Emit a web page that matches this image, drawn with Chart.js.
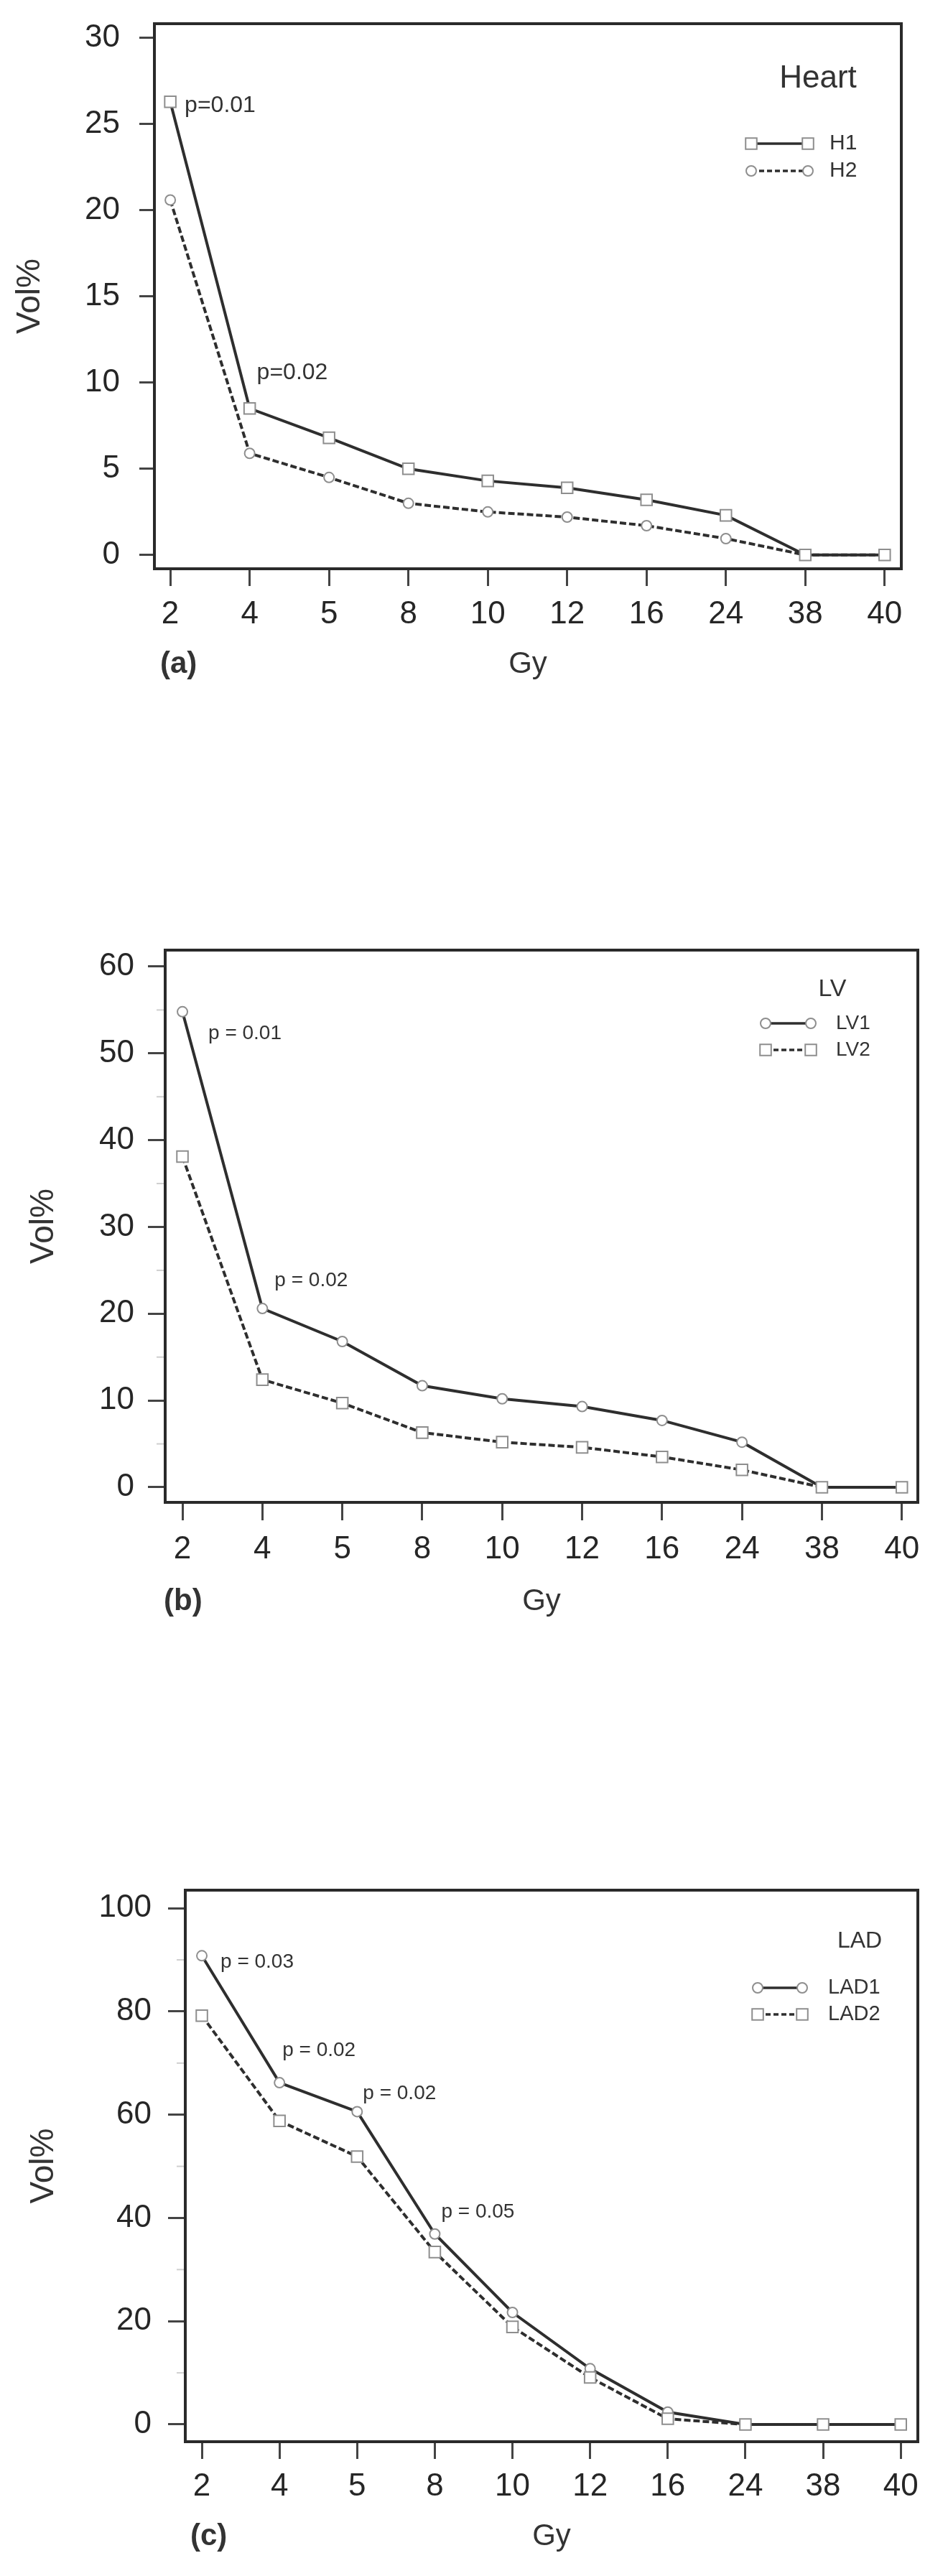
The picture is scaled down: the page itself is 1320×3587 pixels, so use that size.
<!DOCTYPE html>
<html>
<head>
<meta charset="utf-8">
<title>Dose-volume: Heart, LV, LAD</title>
<script src="https://cdn.jsdelivr.net/npm/chart.js@4.4.1/dist/chart.umd.min.js"></script>
<style>
  html, body { margin: 0; padding: 0; background: #fff; }
  body { width: 1320px; height: 3587px; position: relative; overflow: hidden; }
  .panel { position: absolute; left: 0; width: 1320px; }
  canvas { display: block; }
</style>
</head>
<body>
<div class="panel" style="top:0px"><canvas id="chartA"></canvas></div>
<div class="panel" style="top:1250px"><canvas id="chartB"></canvas></div>
<div class="panel" style="top:2560px"><canvas id="chartC"></canvas></div>

<script>
// x categories (dose, Gy)
const gyLabels = ['2', '4', '5', '8', '10', '12', '16', '24', '38', '40'];

// (a) Heart, Vol%
const heartH1 = [26.3, 8.5, 6.8, 5.0, 4.3, 3.9, 3.2, 2.3, 0, 0];
const heartH2 = [20.6, 5.9, 4.5, 3.0, 2.5, 2.2, 1.7, 0.95, 0, 0];
const heartTicks = [0, 5, 10, 15, 20, 25, 30];

// (b) LV, Vol%
const lvLV1 = [54.8, 20.6, 16.8, 11.7, 10.2, 9.3, 7.7, 5.2, 0, 0];
const lvLV2 = [38.1, 12.4, 9.7, 6.3, 5.2, 4.6, 3.5, 2.0, 0, 0];
const lvTicks = [0, 10, 20, 30, 40, 50, 60];
const lvMinorTicks = [5, 15, 25, 35, 45, 55];

// (c) LAD, Vol%
const ladLAD1 = [90.8, 66.2, 60.6, 36.9, 21.7, 10.8, 2.4, 0, 0, 0];
const ladLAD2 = [79.2, 58.8, 51.9, 33.4, 18.9, 9.1, 1.1, 0, 0, 0];
const ladTicks = [0, 20, 40, 60, 80, 100];
const ladMinorTicks = [10, 30, 50, 70, 90];

// p-value notes: index into gyLabels + text
const heartNotes = [[0, 'p=0.01'], [1, 'p=0.02']];
const lvNotes = [[0, 'p = 0.01'], [1, 'p = 0.02']];
const ladNotes = [[0, 'p = 0.03'], [1, 'p = 0.02'], [2, 'p = 0.02'], [3, 'p = 0.05']];

const FONT = '"Liberation Sans", Arial, Helvetica, sans-serif';
const INK = '#2e2e2e';
const MARK = '#8e8e8e';

function markerRadius(style) { return style === 'rect' ? 11 : 7; }

function drawMarker(ctx, style, x, y) {
  const r = markerRadius(style);
  ctx.save();
  ctx.fillStyle = '#fff';
  ctx.strokeStyle = MARK;
  ctx.lineWidth = 2;
  ctx.setLineDash([]);
  ctx.beginPath();
  if (style === 'rect') {
    const s = r * Math.SQRT1_2;
    ctx.rect(x - s, y - s, 2 * s, 2 * s);
  } else {
    ctx.arc(x, y, r, 0, Math.PI * 2);
  }
  ctx.fill();
  ctx.stroke();
  ctx.restore();
}

// keep the plot box exactly where the frame is: no label overflow padding
function noOverflow(scale) {
  scale.paddingTop = 0;
  scale.paddingBottom = 0;
  scale.paddingLeft = 0;
  scale.paddingRight = 0;
}

function makePanel(cfg) {
  const canvas = document.getElementById(cfg.id);
  canvas.width = 1320;
  canvas.height = cfg.height;
  canvas.style.width = '1320px';
  canvas.style.height = cfg.height + 'px';
  const top0 = cfg.canvasTop;
  const fr = cfg.frame;

  const datasets = cfg.series.map(s => ({
    label: s.label,
    data: s.values.map((v, i) => ({ x: i, y: v })),
    borderColor: INK,
    borderWidth: 4,
    borderDash: s.dashed ? [9, 4] : [],
    pointStyle: s.marker,
    pointRadius: markerRadius(s.marker),
    pointBackgroundColor: '#fff',
    pointBorderColor: MARK,
    pointBorderWidth: 2,
    order: s.onTop ? 0 : 1,
    tension: 0,
    fill: false
  }));

  const decor = {
    id: 'decor',
    afterDatasetsDraw(chart) {
      const ctx = chart.ctx;
      const xs = chart.scales.x, ys = chart.scales.y;
      const base = cfg.series[0].values;
      ctx.save();
      ctx.fillStyle = '#333';
      ctx.font = cfg.noteSize + 'px ' + FONT;
      ctx.textAlign = 'left';
      ctx.textBaseline = 'middle';
      cfg.notes.forEach(([i, txt], k) => {
        const off = cfg.noteOffsets[k];
        ctx.fillText(txt, xs.getPixelForValue(i) + off[0], ys.getPixelForValue(base[i]) + off[1]);
      });
      ctx.restore();
    },
    afterDraw(chart) {
      const ctx = chart.ctx;
      const a = chart.chartArea;
      const ys = chart.scales.y;
      ctx.save();
      // frame
      ctx.strokeStyle = '#2a2a2a';
      ctx.lineWidth = 4;
      ctx.strokeRect(a.left, a.top, a.right - a.left, a.bottom - a.top);

      // faint minor ticks
      if (cfg.minor) {
        ctx.strokeStyle = '#cfcfcf';
        ctx.lineWidth = 2;
        cfg.minor.forEach(v => {
          const y = ys.getPixelForValue(v);
          ctx.beginPath();
          ctx.moveTo(a.left - 12, y);
          ctx.lineTo(a.left - 2, y);
          ctx.stroke();
        });
      }

      // y title
      ctx.fillStyle = '#333';
      ctx.font = '46px ' + FONT;
      ctx.textAlign = 'center';
      ctx.textBaseline = 'middle';
      ctx.save();
      ctx.translate(cfg.yTitleX, (a.top + a.bottom) / 2);
      ctx.rotate(-Math.PI / 2);
      ctx.fillText('Vol%', 0, 0);
      ctx.restore();

      // x title + panel letter
      const ty = a.bottom + cfg.titleGap;
      ctx.font = '42px ' + FONT;
      ctx.fillText('Gy', (a.left + a.right) / 2, ty);
      ctx.font = 'bold 42px ' + FONT;
      ctx.textAlign = 'left';
      ctx.fillText(cfg.letter, cfg.letterX, ty);

      // legend
      const lg = cfg.legend;
      ctx.textAlign = 'center';
      ctx.font = lg.titleSize + 'px ' + FONT;
      ctx.fillText(lg.title, lg.titleX, lg.titleY - top0);
      ctx.textAlign = 'left';
      ctx.font = lg.size + 'px ' + FONT;
      cfg.series.forEach((s, k) => {
        const y = lg.rows[k] - top0;
        ctx.strokeStyle = INK;
        ctx.lineWidth = 3.5;
        ctx.setLineDash(s.dashed ? [7, 4] : []);
        ctx.beginPath();
        ctx.moveTo(lg.symL, y);
        ctx.lineTo(lg.symR, y);
        ctx.stroke();
        ctx.setLineDash([]);
        drawMarker(ctx, s.marker, lg.symL, y);
        drawMarker(ctx, s.marker, lg.symR, y);
        ctx.fillStyle = '#333';
        ctx.fillText(s.label, lg.textX, y);
      });
      ctx.restore();
    }
  };

  return new Chart(canvas, {
    type: 'line',
    data: { datasets },
    options: {
      responsive: false,
      animation: false,
      devicePixelRatio: 1,
      layout: { padding: { left: 0, top: fr.top - top0, right: 1320 - fr.right, bottom: 0 } },
      plugins: { legend: { display: false }, tooltip: { enabled: false } },
      scales: {
        x: {
          type: 'linear',
          min: cfg.xMin,
          max: cfg.xMax,
          afterFit(scale) { scale.height = top0 + cfg.height - fr.bottom; noOverflow(scale); },
          afterBuildTicks(scale) { scale.ticks = gyLabels.map((_, i) => ({ value: i })); },
          grid: { drawOnChartArea: false, drawTicks: true, tickLength: cfg.xTickLen, color: '#444', lineWidth: 3 },
          border: { display: false },
          ticks: {
            autoSkip: false,
            maxRotation: 0,
            padding: cfg.xPad,
            color: '#262626',
            font: { family: FONT, size: 44 },
            callback: v => gyLabels[v]
          }
        },
        y: {
          type: 'linear',
          min: cfg.yMin,
          max: cfg.yMax,
          afterFit(scale) { scale.width = fr.left; noOverflow(scale); },
          afterBuildTicks(scale) { scale.ticks = cfg.yTicks.map(v => ({ value: v })); },
          grid: { drawOnChartArea: false, drawTicks: true, tickLength: cfg.yTickLen, color: '#444', lineWidth: 3 },
          border: { display: false },
          ticks: {
            padding: cfg.yPad,
            color: '#262626',
            font: { family: FONT, size: 44 },
            callback: v => String(v)
          }
        }
      }
    },
    plugins: [decor]
  });
}

makePanel({
  id: 'chartA', canvasTop: 0, height: 1000,
  frame: { left: 215, top: 33, right: 1255, bottom: 792 },
  xMin: -0.2, xMax: 9.21, yMin: -0.8, yMax: 30.83,
  yTicks: heartTicks, yTickLen: 21, yPad: 27, xTickLen: 24, xPad: 13,
  series: [
    { label: 'H1', values: heartH1, dashed: false, marker: 'rect', onTop: true },
    { label: 'H2', values: heartH2, dashed: true, marker: 'circle', onTop: false }
  ],
  notes: heartNotes, noteSize: 32, noteOffsets: [[20, 5], [10, -50]],
  yTitleX: 42, titleGap: 133, letter: '(a)', letterX: 223,
  legend: { title: 'Heart', titleX: 1139, titleY: 110, titleSize: 44, rows: [200, 238],
            symL: 1046, symR: 1125, textX: 1155, size: 30 }
});

makePanel({
  id: 'chartB', canvasTop: 1250, height: 1050,
  frame: { left: 230, top: 1323, right: 1278, bottom: 2092 },
  xMin: -0.216, xMax: 9.2, yMin: -1.74, yMax: 61.9,
  yTicks: lvTicks, minor: lvMinorTicks, yTickLen: 24, yPad: 19, xTickLen: 25, xPad: 14,
  series: [
    { label: 'LV1', values: lvLV1, dashed: false, marker: 'circle', onTop: false },
    { label: 'LV2', values: lvLV2, dashed: true, marker: 'rect', onTop: true }
  ],
  notes: lvNotes, noteSize: 28, noteOffsets: [[36, 30], [17, -39]],
  yTitleX: 61, titleGap: 138, letter: '(b)', letterX: 228,
  legend: { title: 'LV', titleX: 1159, titleY: 1378, titleSize: 34, rows: [1425, 1462],
            symL: 1066, symR: 1129, textX: 1164, size: 28 }
});

makePanel({
  id: 'chartC', canvasTop: 2560, height: 1027,
  frame: { left: 258, top: 2632, right: 1278, bottom: 3400 },
  xMin: -0.213, xMax: 9.22, yMin: -3.34, yMax: 103.5,
  yTicks: ladTicks, minor: ladMinorTicks, yTickLen: 24, yPad: 23, xTickLen: 24, xPad: 12,
  series: [
    { label: 'LAD1', values: ladLAD1, dashed: false, marker: 'circle', onTop: false },
    { label: 'LAD2', values: ladLAD2, dashed: true, marker: 'rect', onTop: true }
  ],
  notes: ladNotes, noteSize: 28, noteOffsets: [[26, 9], [4, -45], [8, -25], [9, -30]],
  yTitleX: 61, titleGap: 132, letter: '(c)', letterX: 265,
  legend: { title: 'LAD', titleX: 1197, titleY: 2703, titleSize: 32, rows: [2768, 2805],
            symL: 1055, symR: 1117, textX: 1153, size: 29 }
});
</script>
</body>
</html>
